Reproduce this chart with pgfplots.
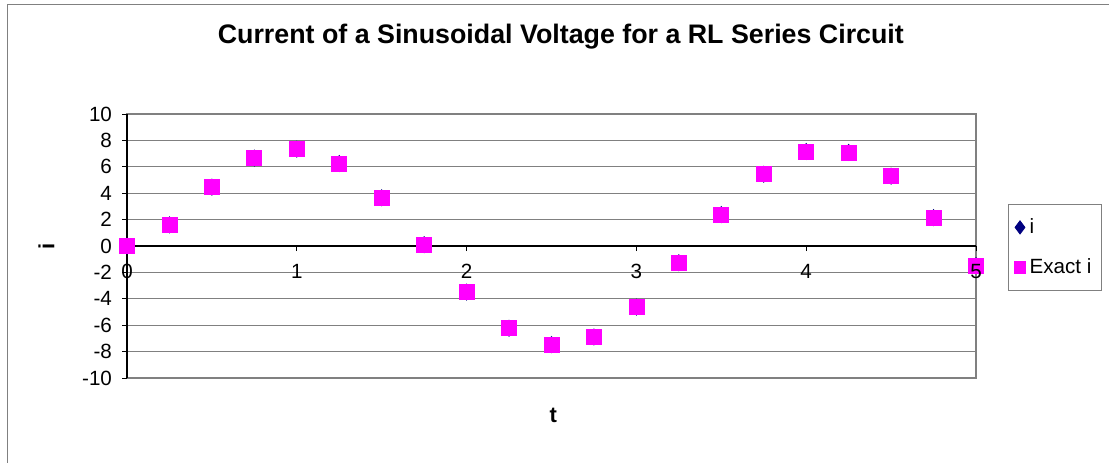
\documentclass[border=0pt]{standalone}
\usepackage{fontspec}
\setmainfont{Liberation Sans}
\usepackage{pgfplots}
\pgfplotsset{compat=1.18}
\definecolor{ExcelMag}{HTML}{FF00FF}
\definecolor{ExcelNavy}{HTML}{000080}
\definecolor{ExcelGrid}{HTML}{808080}

% exact current values, t = 0 ... 5 step 0.25
\pgfplotstableread{
t      i
0      0
0.25   1.60
0.5    4.46
0.75   6.66
1      7.34
1.25   6.25
1.5    3.65
1.75   0.10
2     -3.49
2.25  -6.23
2.5   -7.47
2.75  -6.89
3     -4.63
3.25  -1.27
3.5    2.38
3.75   5.44
4      7.16
4.25   7.09
4.5    5.29
4.75   2.15
5     -1.49
}\exactdata

\begin{document}
\begin{tikzpicture}
\useasboundingbox (0,0) rectangle (554.5pt,231pt);
\draw[ExcelGrid] (3.5pt,-5pt) |- (600pt,229pt);

\pgfplotsset{
  rlaxis/.style={
    at={(63.5pt,42pt)}, anchor=south west,
    scale only axis, width=424.5pt, height=132pt,
    xmin=0, xmax=5, ymin=-10, ymax=10,
    font=\fontsize{10.3}{12}\selectfont,
    /pgf/number format/assume math mode=true,
  },
}

% background: frame and horizontal grid
\begin{axis}[rlaxis,
  axis line style={ExcelGrid, line width=0.9pt},
  xtick=\empty, ytick={-10,-8,...,10}, yticklabels={},
  major tick length=0pt,
  ymajorgrids, grid style={ExcelGrid, line width=0.6pt},
  title={\bfseries Current of a Sinusoidal Voltage for a RL Series Circuit},
  title style={font=\fontsize{13.4}{16}\selectfont, at={(axis description cs:0.511,1.246)}, anchor=center},
  ylabel={\bfseries i},
  ylabel style={font=\fontsize{11}{13}\selectfont, at={(axis description cs:-0.095,0.5)}, anchor=center, rotate=0},
  xlabel={\bfseries t},
  xlabel style={font=\fontsize{11}{13}\selectfont, at={(axis description cs:0.502,-0.14)}, anchor=center},
]
\end{axis}

% axes through the origin, and the data
\begin{axis}[rlaxis,
  axis x line=middle, axis y line=left,
  axis line style={black, -, line width=0.6pt},
  hide obscured x ticks=false,
  xtick={0,1,...,5}, xticklabels={}, ytick={-10,-8,...,10},
  tick align=outside, major tick length=2.5pt,
  tick style={black, line width=0.5pt},
  yticklabel style={xshift=-1.5pt},
  clip=false,
  legend style={at={(1.0377,0.659)}, anchor=north west, draw=ExcelGrid,
    font=\fontsize{10.3}{12}\selectfont, inner xsep=3pt, inner ysep=5pt,
    /tikz/row sep=7pt},
  legend cell align=left,
  legend image code/.code={\draw[#1, only marks] plot coordinates {(0.12cm,0cm)};},
]
\addplot[only marks, mark=diamond*, mark size=4pt, color=ExcelNavy, forget plot] table[x=t,y=i] {\exactdata};
\addlegendimage{only marks, mark=diamond*, mark size=3.3pt, color=ExcelNavy}
\addlegendentry{i}
\addplot[only marks, mark=square*, mark size=3.75pt, color=ExcelMag, forget plot] table[x=t,y=i] {\exactdata};
\addlegendimage{only marks, mark=square*, mark size=2.8pt, color=ExcelMag}
\addlegendentry{Exact i}
\end{axis}

% t tick labels, set above the markers
\begin{axis}[rlaxis,
  axis x line=middle, axis y line=none,
  axis line style={draw=none}, tick style={draw=none},
  hide obscured x ticks=false,
  xtick={0,1,...,5}, tick align=outside, major tick length=2.5pt,
  xticklabel style={yshift=-3pt},
]
\end{axis}
\end{tikzpicture}
\end{document}
